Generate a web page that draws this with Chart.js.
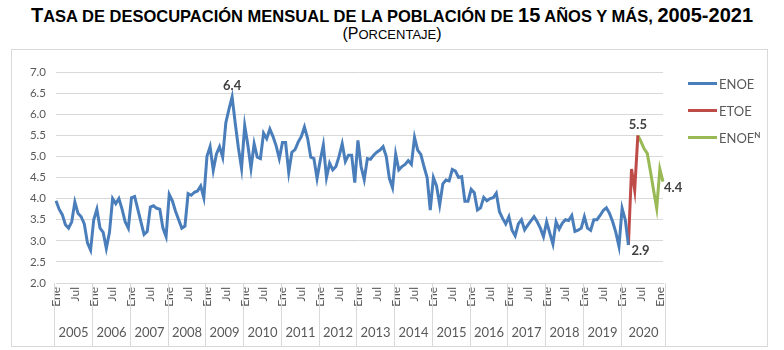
<!DOCTYPE html>
<html>
<head>
<meta charset="utf-8">
<script src="https://cdn.jsdelivr.net/npm/chart.js@4/dist/chart.umd.min.js"></script>
<style>
  body { margin: 0; background: #fff; width: 784px; height: 350px; position: relative; overflow: hidden; }
  #title { position: absolute; top: 4px; left: 0; width: 784px; text-align: center; font-family: "Liberation Sans Narrow", "Liberation Sans", Arial, sans-serif; font-weight: bold; font-size: 20px; color: #000; white-space: nowrap; }
  #title .s { font-size: 16.5px; }
  #sub { position: absolute; top: 25px; left: 0; width: 784px; text-align: center; font-family: "Liberation Sans Narrow", "Liberation Sans", Arial, sans-serif; font-size: 16px; color: #000; }
  #sub .s { font-size: 13px; }
  #box { position: absolute; left: 11px; top: 49px; width: 755px; height: 296px; border: 1px solid #d9d9d9; }
  #legend { position: absolute; left: 688px; top: 70px; font-family: Lato, "Noto Sans", sans-serif; font-size: 13px; color: #595959; }
  #legend .it { height: 27px; display: flex; align-items: center; }
  #legend .ln { width: 29px; height: 3px; margin-right: 2px; }
  #legend sup { font-size: 8px; font-weight: bold; vertical-align: 5px; line-height: 0; }
</style>
</head>
<body>
<div id="title">T<span class="s">ASA DE DESOCUPACIÓN MENSUAL DE LA POBLACIÓN DE </span>15<span class="s"> AÑOS Y MÁS, </span>2005-2021</div>
<div id="sub">(P<span class="s">ORCENTAJE</span>)</div>
<div id="box"><canvas id="myChart" width="755" height="296"></canvas></div>
<div id="legend"></div>
<script>
// tasa de desocupacion mensual (%), ene 2005 - feb 2021
var years = ['2005', '2006', '2007', '2008', '2009', '2010', '2011', '2012',
  '2013', '2014', '2015', '2016', '2017', '2018', '2019', '2020'];
var months = ['Ene', 'Feb', 'Mar', 'Abr', 'May', 'Jun', 'Jul', 'Ago', 'Sep', 'Oct', 'Nov', 'Dic'];

// ENOE: ene 2005 - mar 2020
var enoe = [
  3.95, 3.75, 3.62, 3.38, 3.3, 3.45, 3.92, 3.65, 3.57, 3.4, 2.95, 2.78,
  3.5, 3.75, 3.3, 3.2, 2.82, 3.2, 4.0, 3.88, 4.0, 3.75, 3.45, 3.3,
  4.02, 4.05, 3.75, 3.45, 3.15, 3.22, 3.8, 3.83, 3.77, 3.75, 3.3, 3.1,
  4.1, 3.95, 3.7, 3.5, 3.3, 3.35, 4.12, 4.08, 4.15, 4.18, 4.3, 4.02,
  5.0, 5.23, 4.67, 5.05, 5.23, 4.98, 5.8, 6.12, 6.41, 5.78, 5.2, 4.72,
  5.73, 5.27, 4.72, 5.3, 4.98, 4.95, 5.55, 5.42, 5.65, 5.47, 5.25, 4.95,
  5.33, 5.33, 4.62, 5.1, 5.16, 5.34, 5.47, 5.7, 5.43, 4.98, 4.95, 4.48,
  4.9, 5.27, 4.5, 4.84, 4.68, 4.76, 5.0, 5.3, 4.88, 5.03, 5.03, 4.38,
  5.38, 4.76, 4.45, 4.95, 4.93, 5.03, 5.1, 5.15, 5.23, 5.0, 4.48, 4.26,
  5.05, 4.68, 4.76, 4.81, 4.9, 4.81, 5.45, 5.15, 5.05, 4.76, 4.5, 3.73,
  4.5, 4.3, 3.85, 4.35, 4.44, 4.42, 4.69, 4.65, 4.5, 4.52, 3.94, 3.94,
  4.22, 4.14, 3.73, 3.78, 4.03, 3.95, 4.0, 4.02, 4.13, 3.69, 3.53, 3.4,
  3.57, 3.25, 3.12, 3.4, 3.5, 3.26, 3.37, 3.47, 3.57, 3.45, 3.3, 3.1,
  3.45, 3.18, 2.92, 3.45, 3.28, 3.42, 3.5, 3.48, 3.6, 3.22, 3.25, 3.3,
  3.57, 3.3, 3.25, 3.5, 3.5, 3.6, 3.72, 3.78, 3.65, 3.45, 3.2, 2.87,
  3.77, 3.5, 2.9
];
// ETOE: mar 2020 - jun 2020
var etoe = [2.9, 4.7, 4.2, 5.5];
// ENOE nueva edicion: jun 2020 - feb 2021
var enoeN = [5.5, 5.35, 5.18, 5.07, 4.65, 4.2, 3.77, 4.7, 4.4];

var yTicks = [2.0, 2.5, 3.0, 3.5, 4.0, 4.5, 5.0, 5.5, 6.0, 6.5, 7.0];

var nPoints = enoe.length + etoe.length - 1 + enoeN.length - 1;
var labels = [];
for (var i = 0; i < nPoints; i++) {
  labels.push(months[i % 12] + ' ' + (2005 + Math.floor(i / 12)));
}

function pad(arr, start) {
  var out = [];
  for (var i = 0; i < nPoints; i++) {
    var k = i - start;
    out.push(k >= 0 && k < arr.length ? arr[k] : null);
  }
  return out;
}
var etoeStart = enoe.length - 1;
var enoeNStart = etoeStart + etoe.length - 1;

var series = [
  { label: 'ENOE', color: '#4a7ebb', data: pad(enoe, 0) },
  { label: 'ETOE', color: '#be4b48', data: pad(etoe, etoeStart) },
  { label: 'ENOE', sup: 'N', color: '#98b954', data: pad(enoeN, enoeNStart) }
];

// legend
var lg = document.getElementById('legend');
series.forEach(function (s) {
  var d = document.createElement('div');
  d.className = 'it';
  d.innerHTML = '<span class="ln" style="background:' + s.color + '"></span><span>' + s.label + (s.sup ? '<sup>' + s.sup + '</sup>' : '') + '</span>';
  lg.appendChild(d);
});

// year row under the month labels
var yearAxis = {
  id: 'yearAxis',
  afterDraw: function (chart) {
    var ctx = chart.ctx;
    var x = chart.scales.x;
    var half = (x.getPixelForValue(1) - x.getPixelForValue(0)) / 2;
    var top = x.top;
    var bottom = chart.height;
    ctx.save();
    ctx.strokeStyle = '#d9d9d9';
    ctx.lineWidth = 1;
    ctx.fillStyle = '#595959';
    ctx.font = '13px Lato';
    ctx.textAlign = 'center';
    ctx.textBaseline = 'middle';
    years.forEach(function (yr, j) {
      var a = j * 12;
      var b = j === years.length - 1 ? nPoints - 1 : a + 11;
      var left = Math.round(x.getPixelForValue(a) - half) + 0.5;
      var right = Math.round(x.getPixelForValue(b) + half) + 0.5;
      ctx.beginPath();
      ctx.moveTo(left, top);
      ctx.lineTo(left, bottom);
      if (j === years.length - 1) {
        ctx.moveTo(right, top);
        ctx.lineTo(right, bottom);
      }
      ctx.stroke();
      ctx.fillText(yr, (left + right) / 2, top + 50);
    });
    ctx.restore();
  }
};

// value labels at selected points
var pointLabels = {
  id: 'pointLabels',
  afterDatasetsDraw: function (chart) {
    var ctx = chart.ctx;
    var marks = [
      { ds: 0, i: enoe.indexOf(Math.max.apply(null, enoe)), dx: 0, dy: -11, align: 'center' },
      { ds: 1, i: etoeStart + etoe.length - 1, dx: 0, dy: -10, align: 'center' },
      { ds: 1, i: etoeStart, dx: 3, dy: 6, align: 'left' },
      { ds: 2, i: nPoints - 1, dx: 1, dy: 6, align: 'left' }
    ];
    ctx.save();
    ctx.font = 'bold 13px Lato';
    ctx.fillStyle = '#404040';
    ctx.textBaseline = 'middle';
    marks.forEach(function (m) {
      var p = chart.getDatasetMeta(m.ds).data[m.i];
      var v = chart.data.datasets[m.ds].data[m.i];
      ctx.textAlign = m.align;
      ctx.fillText(v.toFixed(1), p.x + m.dx, p.y + m.dy);
    });
    ctx.restore();
  }
};

const data = {
  labels: labels,
  datasets: series.map(function (s) {
    return {
      label: s.label,
      data: s.data,
      borderColor: s.color,
      backgroundColor: s.color,
      borderWidth: 3,
      pointRadius: 0,
      tension: 0,
      spanGaps: false
    };
  })
};

const config = {
  type: 'line',
  data: data,
  options: {
    responsive: false,
    animation: false,
    layout: { padding: { top: 22, right: 104, left: 0, bottom: 0 } },
    plugins: { legend: { display: false }, tooltip: { enabled: false } },
    scales: {
      x: {
        offset: false,
        grid: { display: false, drawTicks: false },
        border: { color: '#d9d9d9' },
        afterFit: function (s) { s.height = 63; },
        ticks: {
          autoSkip: false,
          minRotation: 90,
          maxRotation: 90,
          padding: 4,
          color: '#595959',
          font: { family: 'Lato', size: 12 },
          callback: function (v, i) {
            var m = i % 12;
            return m === 0 ? 'Ene' : (m === 6 ? 'Jul' : '');
          }
        }
      },
      y: {
        min: yTicks[0],
        max: yTicks[yTicks.length - 1],
        afterFit: function (s) { s.width = 44; },
        afterBuildTicks: function (s) { s.ticks = yTicks.map(function (v) { return { value: v }; }); },
        grid: { color: '#d9d9d9', drawTicks: false },
        border: { display: false },
        ticks: {
          padding: 10,
          color: '#595959',
          font: { family: 'Lato', size: 11.5 },
          callback: function (v) { return v.toFixed(1); }
        }
      }
    }
  },
  plugins: [yearAxis, pointLabels]
};

var myChart = new Chart(document.getElementById('myChart'), config);
</script>
</body>
</html>
